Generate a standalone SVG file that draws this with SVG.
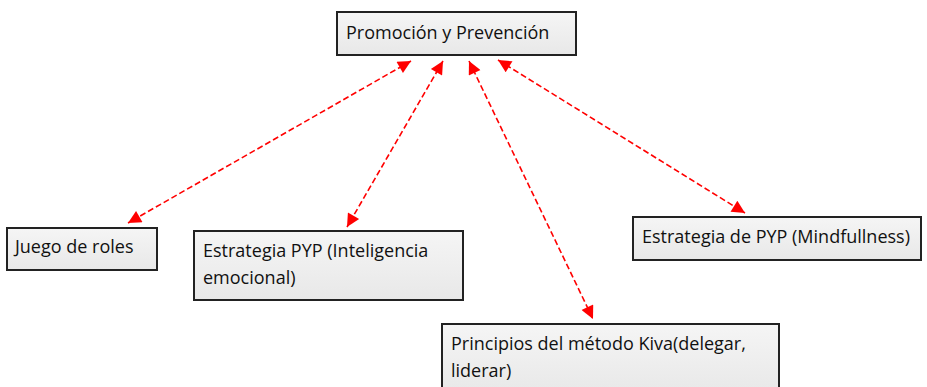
<svg xmlns="http://www.w3.org/2000/svg" width="927" height="387" viewBox="0 0 927 387">
<defs>
<linearGradient id="g" x1="0" y1="0" x2="0" y2="1">
<stop offset="0" stop-color="#f5f5f5"/>
<stop offset="1" stop-color="#e8e8e8"/>
</linearGradient>
<marker id="ah" viewBox="0 0 10 10" refX="10" refY="5" markerWidth="16" markerHeight="13" markerUnits="userSpaceOnUse" orient="auto-start-reverse">
<path d="M0,0 L10,5 L0,10 Z" fill="#ff0000"/>
</marker>
</defs>
<style>
.box{fill:url(#g);stroke:#222;stroke-width:2}
.t{font-family:"Open Sans","Noto Sans",sans-serif;font-size:18px;fill:#111}
.c{fill:none;stroke:#ff0000;stroke-width:1.6;stroke-dasharray:6,3;marker-start:url(#ah);marker-end:url(#ah)}
</style>
<rect width="927" height="387" fill="#fff"/>
<g id="connectors">
<line class="c" x1="411" y1="61" x2="128" y2="223"/>
<line class="c" x1="443" y1="61" x2="347" y2="227"/>
<line class="c" x1="469" y1="61" x2="593" y2="319"/>
<line class="c" x1="498" y1="60" x2="745" y2="213"/>
</g>
<g id="n-promocion">
<rect class="box" x="337" y="12" width="239" height="43"/>
<text class="t" x="346" y="39">Promoción y Prevención</text>
</g>
<g id="n-juego">
<rect class="box" x="7" y="228" width="150" height="42"/>
<text class="t" x="15" y="253">Juego de roles</text>
</g>
<g id="n-inteligencia">
<rect class="box" x="194" y="231" width="269" height="69"/>
<text class="t" x="203" y="257">Estrategia PYP (Inteligencia</text>
<text class="t" x="203" y="284">emocional)</text>
</g>
<g id="n-mindfullness">
<rect class="box" x="633" y="217" width="288" height="43"/>
<text class="t" x="642" y="243">Estrategia de PYP (Mindfullness)</text>
</g>
<g id="n-kiva">
<rect class="box" x="442" y="324" width="337" height="70"/>
<text class="t" x="451" y="350">Principios del método Kiva(delegar,</text>
<text class="t" x="451" y="377">liderar)</text>
</g>
</svg>
